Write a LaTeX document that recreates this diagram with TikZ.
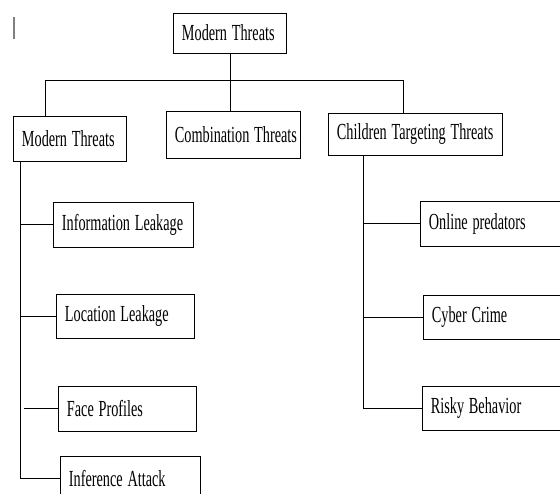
\documentclass[tikz,border=0pt]{standalone}
\usepackage{fontspec}
\setmainfont{Liberation Serif}
\usepackage{graphicx}
\newcommand{\narrow}[1]{\scalebox{0.62}[1]{#1}}
\tikzset{
	box/.style={draw, line width=0.9pt, anchor=west, align=left, text width=#1,
		inner xsep=8.5pt, inner ysep=0pt, font=\fontsize{23}{23}\selectfont},
	link/.style={line width=0.9pt}
}
\begin{document}
\begin{tikzpicture}[x=1pt,y=-1pt]
	\clip (0,0) rectangle (560,494);
	\fill[white] (0,0) rectangle (560,494);
	\draw[gray, line width=1.5pt] (14,17) -- (14,39);
	% top levels
	\node[box=96pt, minimum height=40pt] (top) at (173,33) {\narrow{Modern Threats}};
	\node[box=96pt, minimum height=45pt] (mt) at (13,138.5) {\narrow{Modern Threats}};
	\node[box=117pt, minimum height=47pt] (comb) at (166,134.5) {\narrow{Combination Threats}};
	\node[box=157pt, minimum height=42pt] (child) at (328,134) {\narrow{Children Targeting Threats}};
	% left column
	\node[box=123pt, minimum height=45pt] (info) at (53,224.5) {\narrow{Information Leakage}};
	\node[box=121pt, minimum height=44pt] (loc) at (56,316) {\narrow{Location Leakage}};
	\node[box=121pt, minimum height=45pt] (face) at (58,408.5) {\narrow{Face Profiles}};
	\node[box=123pt, minimum height=45pt] (infer) at (60,478.5) {\narrow{Inference Attack}};
	% right column
	\node[box=150pt, minimum height=45pt] (online) at (420,223.5) {\narrow{Online predators}};
	\node[box=150pt, minimum height=44pt] (cyber) at (423,317) {\narrow{Cyber Crime}};
	\node[box=150pt, minimum height=44pt] (risky) at (422,408) {\narrow{Risky Behavior}};
	% connectors
	\coordinate (busL) at (45,80);
	\coordinate (busR) at (403,80);
	\coordinate (trunkL) at (20,0);
	\coordinate (trunkF) at (24,0);
	\coordinate (trunkR) at (363,0);
	\draw[link] (top.south) -- (top.south |- comb.north);
	\draw[link] (mt.north -| busL) -- (busL) -- (busR) -- (child.north -| busR);
	\draw[link] (mt.south -| trunkL) -- (infer.west -| trunkL) -- (infer.west);
	\draw[link] (info.west -| trunkL) -- (info.west);
	\draw[link] (loc.west -| trunkL) -- (loc.west);
	\draw[link] (face.west -| trunkF) -- (face.west);
	\draw[link] (child.south -| trunkR) -- (risky.west -| trunkR) -- (risky.west);
	\draw[link] (online.west -| trunkR) -- (online.west);
	\draw[link] (cyber.west -| trunkR) -- (cyber.west);
\end{tikzpicture}
\end{document}
